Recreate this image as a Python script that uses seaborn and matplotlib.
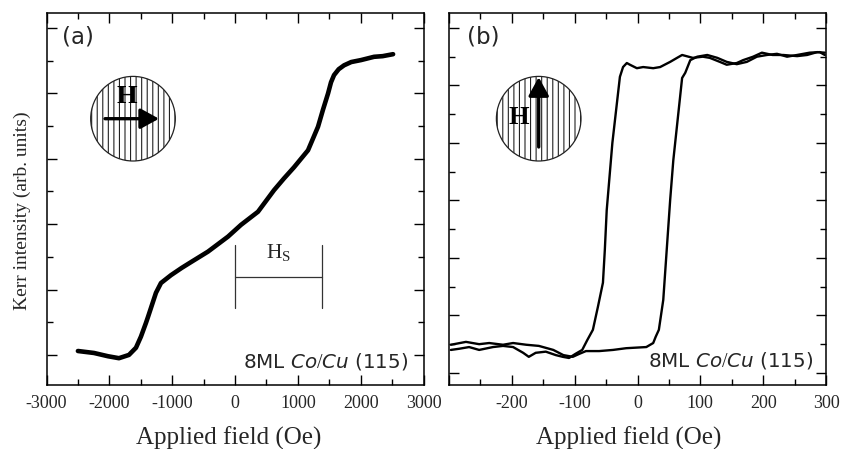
import numpy as np
import pandas as pd
import matplotlib
matplotlib.use("Agg")
import matplotlib.pyplot as plt
import seaborn as sns
from matplotlib.patches import Circle
from matplotlib.ticker import MultipleLocator, FixedLocator, FixedFormatter

# ---------------- data ----------------
# Panel (a): longitudinal loop (hard axis)
field_a = [-2500, -2245, -2022, -1847, -1688, -1576, -1497, -1417, -1385, -1258,
           -1178, -1019, -850, -700, -430, -111, 96, 366, 621, 780, 939, 1162,
           1321, 1400, 1481, 1528, 1576, 1650, 1736, 1850, 2006, 2213, 2350, 2516]
kerr_a = [0.06, 0.03, -0.02, -0.05, 0.00, 0.11, 0.28, 0.49, 0.58, 0.95,
          1.10, 1.22, 1.33, 1.42, 1.58, 1.81, 1.99, 2.19, 2.52, 2.70, 2.87, 3.13,
          3.49, 3.75, 4.00, 4.17, 4.28, 4.37, 4.43, 4.48, 4.51, 4.56, 4.57, 4.60]

# Panel (b): polar loop (easy axis), descending branch (+300 -> -300)
field_b_down = [298, 286, 270, 254, 232, 215, 198, 184, 168, 158, 142, 131, 115,
                104, 88, 71, 63, 52, 36, 25, 9, -1, -12, -17, -23, -28, -40, -49,
                -52, -55, -63, -71, -80, -88, -99, -109, -119, -130, -146, -162,
                -173, -182, -198, -214, -230, -252, -268, -284, -297]
kerr_b_down = [5.57, 5.58, 5.53, 5.51, 5.53, 5.53, 5.57, 5.50, 5.44, 5.39, 5.36,
               5.41, 5.48, 5.50, 5.48, 5.53, 5.48, 5.41, 5.32, 5.30, 5.32, 5.30,
               5.36, 5.39, 5.32, 5.15, 4.00, 2.83, 2.14, 1.57, 1.15, 0.75, 0.57,
               0.40, 0.33, 0.26, 0.28, 0.31, 0.37, 0.35, 0.28, 0.35, 0.45, 0.47,
               0.45, 0.40, 0.45, 0.42, 0.40]
# ascending branch (-300 -> +300)
field_b_up = [-297, -273, -252, -236, -214, -198, -177, -157, -134, -118, -103,
              -93, -82, -61, -39, -18, 14, 25, 29, 34, 41, 52, 57, 71, 76, 84,
              95, 111, 127, 142, 158, 174, 190, 206, 222, 238, 254, 274, 290, 298]
kerr_b_up = [0.49, 0.54, 0.50, 0.52, 0.49, 0.52, 0.49, 0.47, 0.40, 0.31, 0.28,
             0.33, 0.38, 0.38, 0.40, 0.43, 0.45, 0.52, 0.63, 0.75, 1.27, 3.01,
             3.70, 5.13, 5.22, 5.44, 5.50, 5.53, 5.48, 5.41, 5.37, 5.41, 5.50,
             5.53, 5.55, 5.50, 5.53, 5.57, 5.58, 5.53]

xticks_a = [-3000, -2000, -1000, 0, 1000, 2000, 3000]
xticks_b = [-300, -200, -100, 0, 100, 200, 300]
xticklabels_b = ["", "-200", "-100", "0", "100", "200", "300"]
hs_start, hs_end = 0, 1390

sample_label = "8ML $\\mathit{Co/Cu}$ (115)"
xlabel = "Applied field (Oe)"
ylabel = "Kerr intensity (arb. units)"

# ---------------- style ----------------
sns.set_style("ticks")
plt.rcParams["font.family"] = ["Liberation Serif", "DejaVu Serif"]
plt.rcParams["mathtext.fontset"] = "custom"
plt.rcParams["mathtext.rm"] = "Liberation Serif"
plt.rcParams["mathtext.it"] = "DejaVu Sans:italic"
plt.rcParams["hatch.linewidth"] = 0.8
plt.rcParams["hatch.color"] = "#333333"

W, H = 841, 449
fig = plt.figure(figsize=(W / 100, H / 100), dpi=100)
axa = fig.add_axes([46.5 / W, (H - 385) / H, 377 / W, 372 / H])
axb = fig.add_axes([449 / W, (H - 385) / H, 377 / W, 372 / H])

dfa = pd.DataFrame({"field": field_a, "kerr": kerr_a})
dfb1 = pd.DataFrame({"field": field_b_down, "kerr": kerr_b_down})
dfb2 = pd.DataFrame({"field": field_b_up, "kerr": kerr_b_up})

sns.lineplot(data=dfa, x="field", y="kerr", sort=False, estimator=None,
             color="black", lw=3.3, ax=axa)
sns.lineplot(data=dfb1, x="field", y="kerr", sort=False, estimator=None,
             color="black", lw=1.7, ax=axb)
sns.lineplot(data=dfb2, x="field", y="kerr", sort=False, estimator=None,
             color="black", lw=1.7, ax=axb)

for ax in (axa, axb):
    for s in ax.spines.values():
        s.set_linewidth(1.1)
        s.set_color("black")
        s.set_visible(True)
    ax.tick_params(which="both", direction="in", top=True, right=True,
                   bottom=True, left=True, color="black", width=1.0)
    ax.tick_params(which="major", length=7, pad=7, labelsize=13)
    ax.tick_params(which="minor", length=4)
    ax.yaxis.set_major_locator(MultipleLocator(1))
    ax.yaxis.set_minor_locator(MultipleLocator(0.5))
    ax.set_yticklabels([])
    ax.set_xlabel("")
    ax.set_ylabel("")

axa.set_xlim(-3000, 3000)
axa.set_ylim(-0.46, 5.23)
axa.set_xticks(xticks_a)
axa.set_xticklabels([str(t) for t in xticks_a])
axa.xaxis.set_minor_locator(MultipleLocator(500))

axb.set_xlim(-300, 300)
axb.set_ylim(-0.21, 6.26)
axb.xaxis.set_major_locator(FixedLocator(xticks_b))
axb.xaxis.set_major_formatter(FixedFormatter(xticklabels_b))
axb.xaxis.set_minor_locator(MultipleLocator(50))
axb.set_yticklabels([])

# axis labels
fig.text(229 / W, 1 - 438 / H, xlabel, fontsize=18, ha="center", va="center")
fig.text(629 / W, 1 - 438 / H, xlabel, fontsize=18, ha="center", va="center")
fig.text(22 / W, 1 - 211 / H, ylabel, fontsize=14, rotation=90,
         ha="center", va="center")

# panel letters
axa.text(0.041, 0.936, "(a)", transform=axa.transAxes, fontsize=16.5,
         family="DejaVu Sans", va="center", ha="left")
axb.text(0.047, 0.936, "(b)", transform=axb.transAxes, fontsize=16.5,
         family="DejaVu Sans", va="center", ha="left")
# sample labels
axa.text(0.959, 0.063, sample_label, transform=axa.transAxes, fontsize=14.3,
         family="DejaVu Sans", va="center", ha="right")
axb.text(0.966, 0.065, sample_label, transform=axb.transAxes, fontsize=14.3,
         family="DejaVu Sans", va="center", ha="right")

# H_S bracket
axa.plot([hs_start, hs_start], [0.72, 1.68], color="#333333", lw=0.9)
axa.plot([hs_end, hs_end], [0.72, 1.68], color="#333333", lw=0.9)
axa.plot([hs_start, hs_end], [1.19, 1.19], color="#333333", lw=0.9)
axa.text((hs_start + hs_end) / 2, 1.55, "H$_{\\mathrm{S}}$", fontsize=15.5,
         ha="center", va="center")


# insets with hatched circles
def inset(cx, cy, r, arrow_from, arrow_to, hpos):
    pad = 3
    iax = fig.add_axes([(cx - r - pad) / W, (H - (cy + r + pad)) / H,
                        (2 * r + 2 * pad) / W, (2 * r + 2 * pad) / H])
    iax.set_xlim(-r - pad, r + pad)
    iax.set_ylim(-r - pad, r + pad)
    iax.axis("off")
    iax.add_patch(Circle((0, 0), r, facecolor="white", edgecolor="#222222",
                         hatch="|||", lw=0.9))
    iax.annotate("", xy=arrow_to, xytext=arrow_from,
                 arrowprops=dict(arrowstyle="-|>,head_length=0.4,head_width=0.22",
                                 mutation_scale=28, lw=2.4, color="black",
                                 shrinkA=0, shrinkB=0))
    iax.text(hpos[0], hpos[1], "H", fontsize=19, fontweight="bold",
             ha="center", va="center", family="Liberation Serif",
             color="black", zorder=5)


inset(133, 118.7, 42.3, (-28, 0), (26, 0), (-6.3, 22.0))
inset(538.7, 118.7, 42.3, (0, -28.3), (0, 41.5), (-19.7, 1.0))

fig.savefig("out.png", dpi=100)
